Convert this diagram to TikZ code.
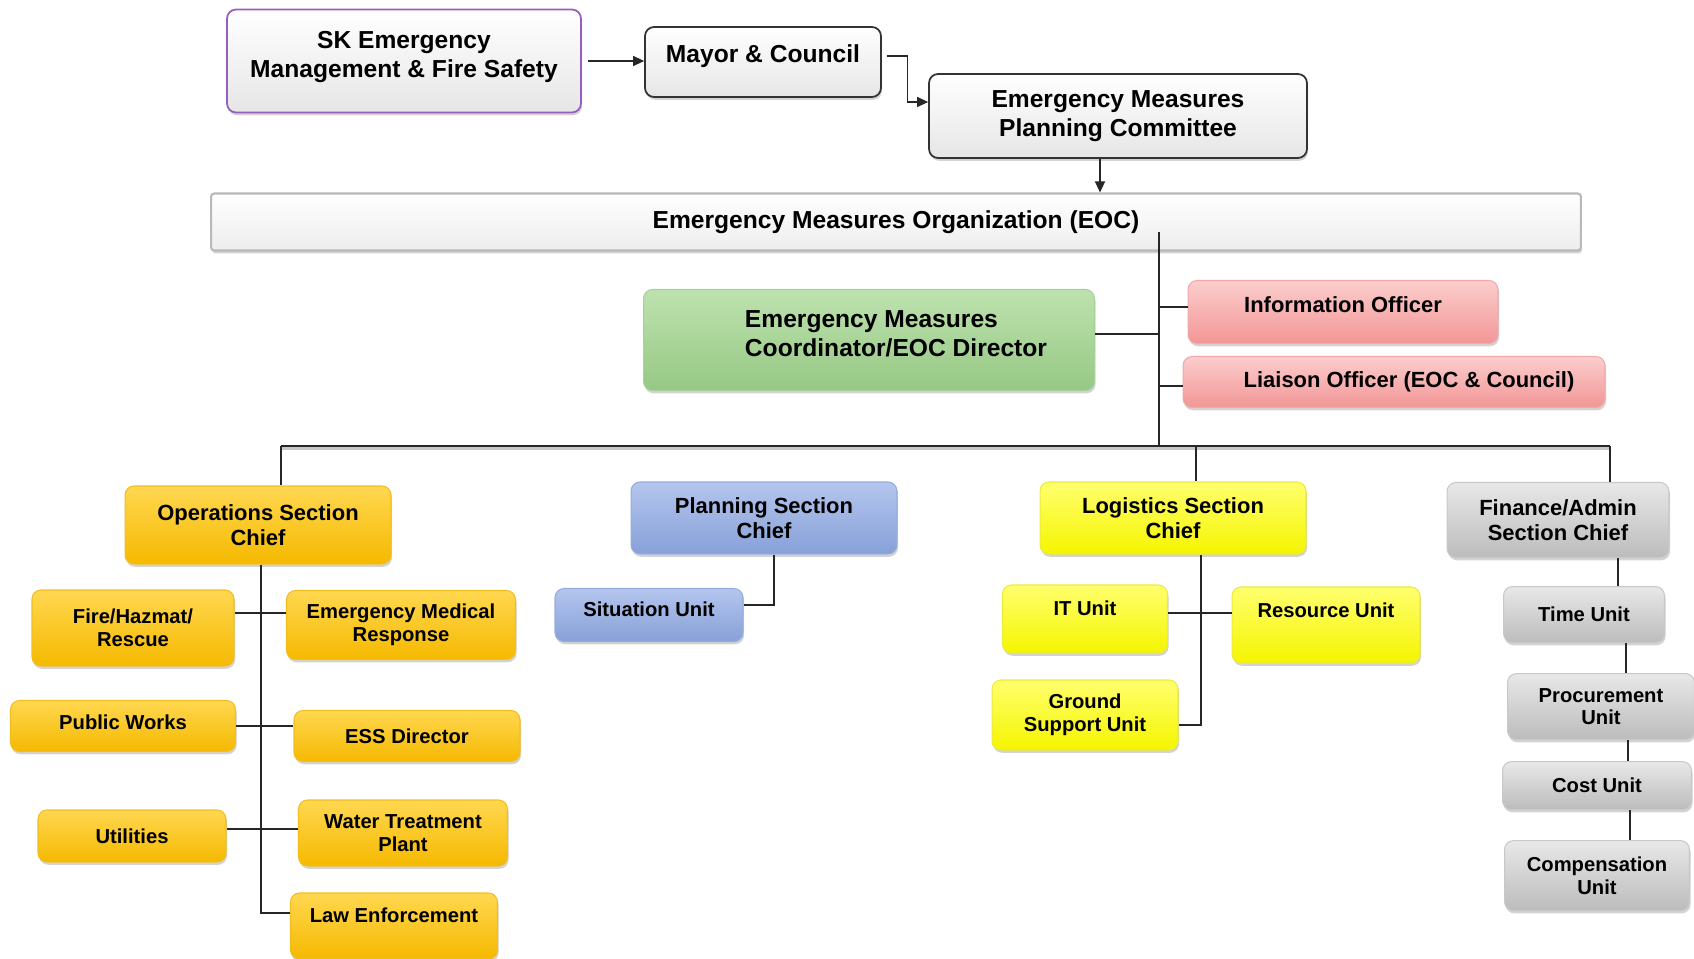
\documentclass[tikz,border=0pt]{standalone}
\usepackage{fontspec}
\setmainfont{Liberation Sans}
\usetikzlibrary{arrows.meta, positioning, shadows, calc}

\definecolor{skpurple}{RGB}{150,95,190}
\definecolor{headlow}{RGB}{230,230,230}
\definecolor{barline}{RGB}{185,185,185}
\definecolor{dirhigh}{RGB}{190,226,175}
\definecolor{dirlow}{RGB}{150,200,132}
\definecolor{dirline}{RGB}{165,210,150}
\definecolor{offhigh}{RGB}{252,205,205}
\definecolor{offlow}{RGB}{242,150,150}
\definecolor{offline}{RGB}{240,170,170}
\definecolor{opshigh}{RGB}{255,215,80}
\definecolor{opslow}{RGB}{245,185,0}
\definecolor{opsline}{RGB}{240,190,30}
\definecolor{planhigh}{RGB}{180,198,238}
\definecolor{planlow}{RGB}{135,160,215}
\definecolor{planline}{RGB}{150,172,222}
\definecolor{loghigh}{RGB}{255,255,110}
\definecolor{loglow}{RGB}{245,245,0}
\definecolor{logline}{RGB}{235,235,60}
\definecolor{finhigh}{RGB}{232,232,232}
\definecolor{finlow}{RGB}{188,188,188}
\definecolor{finline}{RGB}{200,200,200}

\begin{document}
\begin{tikzpicture}[x=0.02cm, y=-0.02cm, >={Triangle[length=0.22cm, width=0.2cm]},
    box/.style={rounded corners=0.18cm, align=center, inner sep=2pt,
        drop shadow={shadow xshift=0.6pt, shadow yshift=-1.6pt, opacity=0.35}},
    topbox/.style={box, draw=black!80, line width=1pt, top color=white,
        bottom color=headlow, font=\fontsize{14}{16.5}\selectfont\bfseries},
    chiefbox/.style={box, line width=0.6pt, font=\fontsize{12.5}{14.5}\selectfont\bfseries},
    unitbox/.style={box, line width=0.6pt, font=\fontsize{11.5}{13}\selectfont\bfseries},
    lift/.style={text depth=#1},
    offfill/.style={draw=offline, top color=offhigh, bottom color=offlow},
    opsfill/.style={draw=opsline, top color=opshigh, bottom color=opslow},
    planfill/.style={draw=planline, top color=planhigh, bottom color=planlow},
    logfill/.style={draw=logline, top color=loghigh, bottom color=loglow},
    finfill/.style={draw=finline, top color=finhigh, bottom color=finlow},
    link/.style={draw=black!85, line width=0.7pt}]
    \useasboundingbox (0,0) rectangle (1694,959);

    % governance
    \node[topbox, draw=skpurple, lift=0.26cm, minimum width=7.08cm, minimum height=2.06cm] (sk) at (404,61)
        {SK Emergency\\Management \& Fire Safety};
    \node[topbox, lift=0.32cm, minimum width=4.72cm, minimum height=1.4cm] (mayor) at (763,62) {Mayor \& Council};
    \node[topbox, minimum width=7.56cm, minimum height=1.68cm] (empc) at (1118,116)
        {Emergency Measures\\Planning Committee};
    \node[topbox, draw=barline, line width=1.2pt, rounded corners=0.06cm, bottom color=black!7,
        minimum width=27.4cm, minimum height=1.14cm] (eoc) at (896,222)
        {Emergency Measures Organization (EOC)};

    \node[topbox, draw=dirline, line width=0.6pt, top color=dirhigh, bottom color=dirlow, align=left,
        lift=0.25cm, minimum width=9.02cm, minimum height=2.02cm] (dir) at (869,340)
        {\hspace*{1.08cm}Emergency Measures\\\hspace*{1.08cm}Coordinator/EOC Director};
    \node[chiefbox, offfill, lift=0.3cm, minimum width=6.2cm, minimum height=1.26cm] (info) at (1343,312)
        {Information Officer};
    \node[chiefbox, offfill, minimum width=8.44cm, minimum height=1.02cm] (liaison) at (1394,382)
        {\hspace*{0.6cm}Liaison Officer (EOC \& Council)};

    % sections
    \node[chiefbox, opsfill, minimum width=5.32cm, minimum height=1.56cm] (ops) at (258,525)
        {Operations Section\\Chief};
    \node[chiefbox, planfill, minimum width=5.32cm, minimum height=1.44cm] (plan) at (764,518)
        {Planning Section\\Chief};
    \node[chiefbox, logfill, minimum width=5.32cm, minimum height=1.44cm] (logi) at (1173,518)
        {Logistics Section\\Chief};
    \node[chiefbox, finfill, minimum width=4.44cm, minimum height=1.5cm] (fin) at (1558,520)
        {Finance/Admin\\Section Chief};

    % operations units
    \node[unitbox, opsfill, minimum width=4.04cm, minimum height=1.52cm] (fire) at (133,628) {Fire/Hazmat/\\Rescue};
    \node[unitbox, opsfill, minimum width=4.58cm, minimum height=1.38cm] (emr) at (401,625) {Emergency Medical\\Response};
    \node[unitbox, opsfill, lift=0.17cm, minimum width=4.5cm, minimum height=1.02cm] (pubw) at (123,726) {Public Works};
    \node[unitbox, opsfill, minimum width=4.52cm, minimum height=1.02cm] (ess) at (407,736) {ESS Director};
    \node[unitbox, opsfill, minimum width=3.76cm, minimum height=1.04cm] (util) at (132,836) {Utilities};
    \node[unitbox, opsfill, minimum width=4.18cm, minimum height=1.32cm] (water) at (403,833) {Water Treatment\\Plant};
    \node[unitbox, opsfill, lift=0.44cm, minimum width=4.14cm, minimum height=1.32cm] (law) at (394,926) {Law Enforcement};

    % planning / logistics units
    \node[unitbox, planfill, lift=0.22cm, minimum width=3.76cm, minimum height=1.06cm] (sit) at (649,615) {Situation Unit};
    \node[unitbox, logfill, lift=0.44cm, minimum width=3.3cm, minimum height=1.36cm] (itu) at (1085,619) {IT Unit};
    \node[unitbox, logfill, lift=0.6cm, minimum width=3.76cm, minimum height=1.52cm] (res) at (1326,625) {Resource Unit};
    \node[unitbox, logfill, minimum width=3.72cm, minimum height=1.4cm] (gsu) at (1085,715) {Ground\\Support Unit};

    % finance units
    \node[unitbox, finfill, minimum width=3.22cm, minimum height=1.12cm, below=0.56cm of fin, xshift=0.52cm] (time) {Time Unit};
    \node[unitbox, finfill, minimum width=3.74cm, minimum height=1.32cm, below=0.6cm of time, xshift=0.34cm] (proc) {Procurement\\Unit};
    \node[unitbox, finfill, minimum width=3.78cm, minimum height=0.96cm, below=0.42cm of proc, xshift=-0.08cm] (cost) {Cost Unit};
    \node[unitbox, finfill, minimum width=3.7cm, minimum height=1.4cm, below=0.6cm of cost] (comp) {Compensation\\Unit};

    % reporting lines
    \draw[link, ->] ([xshift=0.12cm]sk.east) -- (sk.east -| mayor.west);
    \draw[link, ->] ([xshift=0.1cm, yshift=0.12cm]mayor.east) -- ++(21,0) |- ([yshift=0.28cm]empc.west);
    \coordinate (feed) at ([xshift=-0.36cm]empc.south);
    \draw[link, ->] (feed) -- (feed |- eoc.north);

    \coordinate (spinetop) at (1159,232);
    \coordinate (spine) at (1159,446);
    \draw[link] (spinetop) -- (spine);
    \draw[link] ([yshift=0.12cm]dir.east) -- ([yshift=0.12cm]dir.east -| spine);
    \draw[link] ([yshift=0.1cm]info.west) -- ([yshift=0.1cm]info.west -| spine);
    \draw[link] ([yshift=-0.08cm]liaison.west) -- ([yshift=-0.08cm]liaison.west -| spine);

    \coordinate (busL) at (281,446);
    \coordinate (busM) at (1196,446);
    \coordinate (busR) at (1610,446);
    \draw[line width=2.6pt, black!22] ([yshift=-1pt]busL) -- ([yshift=-1pt]busR);
    \draw[link, line width=1pt] (busL) -- (busR);
    \draw[link] (busL) -- (busL |- ops.north);
    \draw[link] (busM) -- (busM |- logi.north);
    \draw[link] (busR) -- (busR |- fin.north);

    \draw[link] ([xshift=0.06cm]ops.south) |- ([yshift=0.26cm]law.west);
    \draw[link] ([yshift=0.3cm]fire.east) -- ([yshift=0.3cm]fire.east -| emr.west);
    \draw[link] (pubw.east) -- (pubw.east -| ess.west);
    \draw[link] ([yshift=0.14cm]util.east) -- ([yshift=0.14cm]util.east -| water.west);

    \draw[link] ([xshift=0.2cm]plan.south) |- ([yshift=0.2cm]sit.east);

    \coordinate (logv) at ([xshift=0.56cm]logi.south);
    \draw[link] (logv) |- ([yshift=-0.2cm]gsu.east);
    \draw[link] ([yshift=0.12cm]itu.east) -- ([yshift=0.12cm]itu.east -| res.west);

    \draw[link] ([xshift=1.2cm]fin.south) -- ([xshift=1.2cm]fin.south |- time.north);
    \draw[link] ([xshift=0.84cm]time.south) -- ([xshift=0.84cm]time.south |- proc.north);
    \draw[link] ([xshift=0.54cm]proc.south) -- ([xshift=0.54cm]proc.south |- cost.north);
    \draw[link] ([xshift=0.66cm]cost.south) -- ([xshift=0.66cm]cost.south |- comp.north);
\end{tikzpicture}
\end{document}
